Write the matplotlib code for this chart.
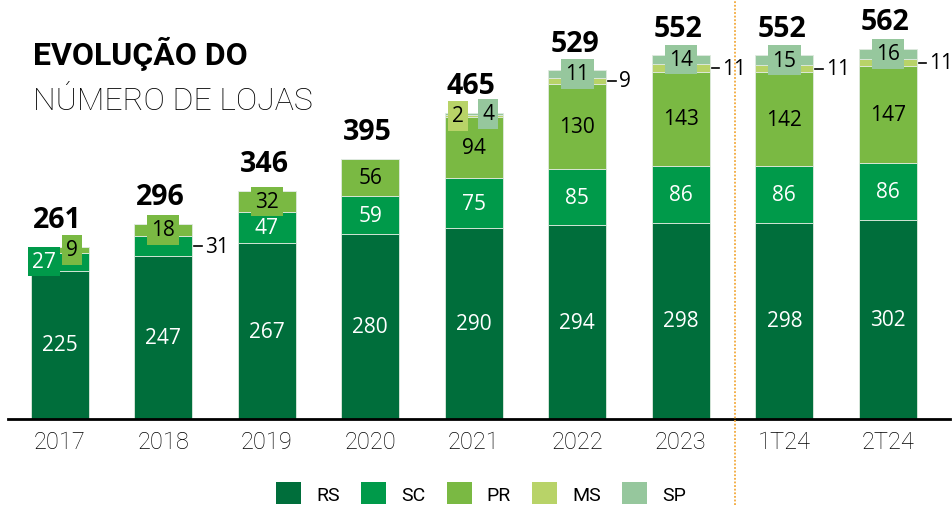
import matplotlib
matplotlib.use("Agg")
import matplotlib.pyplot as plt
from matplotlib.patches import Patch
import numpy as np

categories = ["2017", "2018", "2019", "2020", "2021", "2022", "2023", "1T24", "2T24"]
rs = [225, 247, 267, 280, 290, 294, 298, 298, 302]
sc = [27, 31, 47, 59, 75, 85, 86, 86, 86]
pr = [9, 18, 32, 56, 94, 130, 143, 142, 147]
ms = [0, 0, 0, 0, 2, 9, 11, 11, 11]
sp = [0, 0, 0, 0, 4, 11, 14, 15, 16]
totals = [261, 296, 346, 395, 465, 529, 552, 552, 562]
series_names = ["RS", "SC", "PR", "MS", "SP"]
colors = ["#006E3B", "#009A4A", "#7AB943", "#B8D368", "#96C79D"]

series = [rs, sc, pr, ms, sp]
n = len(categories)
x = np.arange(n)
W = 0.56

fig = plt.figure(figsize=(9.53, 5.06), dpi=100)
ax = fig.add_axes([8/953, 86/506, 942/953, (420-11.4)/506])
ax.set_xlim(-0.5, 8.6)
ax.set_ylim(0, 620)

bottoms = np.zeros(n)
for vals, col in zip(series, colors):
    v = np.array(vals, dtype=float)
    ax.bar(x, v, W, bottom=bottoms, color=col, edgecolor="#dfeadf", linewidth=0.6, zorder=2)
    bottoms += v

FONT = "Open Sans"
def seg_label(i, k, dx=0.0, color="black", box=False, out=False):
    vals = series[k]
    base = sum(series[j][i] for j in range(k))
    ymid = base + vals[i] / 2
    if out:
        x0 = x[i] + W / 2 + 0.02
        ax.plot([x0, x0 + 0.07], [ymid, ymid], color="black", lw=1.2, zorder=4)
        ax.text(x0 + 0.1, ymid, str(vals[i]), ha="left", va="center", fontsize=15,
                family=FONT, color="black", zorder=5)
        return
    kw = {}
    if box:
        kw["bbox"] = dict(boxstyle="square,pad=0.2", facecolor=colors[k], edgecolor="none")
    ax.text(x[i] + dx, ymid, str(vals[i]), ha="center", va="center", fontsize=15,
            family=FONT, color=color, zorder=5, **kw)

# RS labels
for i in range(n):
    seg_label(i, 0, color="white")
# SC labels
seg_label(0, 1, dx=-0.15, color="white", box=True)
seg_label(1, 1, out=True)
for i in range(2, n):
    seg_label(i, 1, color="white")
# PR labels
seg_label(0, 2, dx=0.12, box=True)
seg_label(1, 2, box=True)
seg_label(2, 2, box=True)
for i in range(3, n):
    seg_label(i, 2)
# MS labels
seg_label(4, 3, dx=-0.15, box=True)
for i in range(5, n):
    seg_label(i, 3, out=True)
# SP labels
seg_label(4, 4, dx=0.14, box=True)
for i in range(5, n):
    seg_label(i, 4, box=True)

# totals
for i in range(n):
    ax.annotate(str(totals[i]), (x[i], totals[i]), xytext=(-2, 9), textcoords="offset points",
                ha="center", va="bottom", fontsize=20.5, fontweight="bold", family=FONT, zorder=5)

# separator
fig.add_artist(plt.Line2D([735/953, 735/953], [0, 1], transform=fig.transFigure,
                          color="#F2A93B", lw=1.3, linestyle=(0, (1, 1))))

for s in ["top", "right", "left"]:
    ax.spines[s].set_visible(False)
ax.spines["bottom"].set_linewidth(2.0)
ax.spines["bottom"].set_color("black")
ax.set_yticks([])
ax.set_xticks(x)
ax.set_xticklabels(categories, fontsize=17, family="Roboto", fontweight="light", color="black")
ax.tick_params(axis="x", length=0, pad=8)

# title
fig.text(33/953, 1 - 65/506, "EVOLUÇÃO DO", fontsize=23, fontweight="bold", family="Roboto",
         va="baseline", ha="left")
fig.text(33/953, 1 - 110/506, "NÚMERO DE LOJAS", fontsize=23, fontweight="light", family="Roboto",
         va="baseline", ha="left", color="black")

handles = [Patch(facecolor=c, edgecolor="none") for c in colors]
fig.legend(handles, series_names, loc="center", bbox_to_anchor=(481/953, 1 - 494/506), ncol=5,
           frameon=False, prop={"family": "Roboto", "size": 14}, handlelength=1.3, handleheight=1.3,
           columnspacing=1.1, handletextpad=0.75, borderaxespad=0)

fig.savefig("out.png", dpi=100)
